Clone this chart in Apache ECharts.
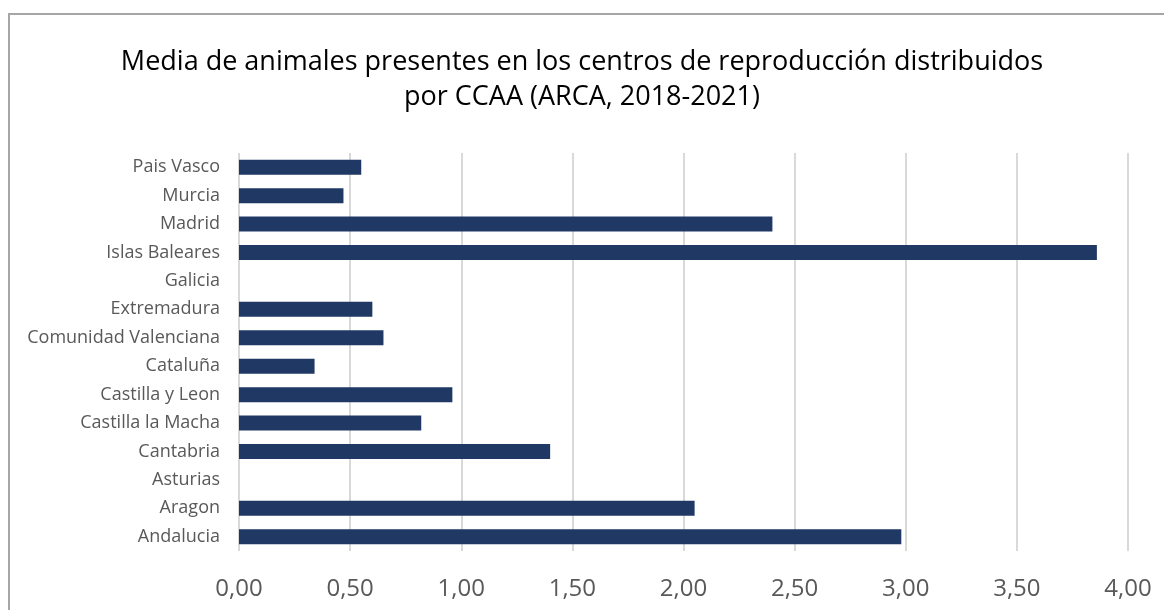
<!DOCTYPE html>
<html>
<head>
<meta charset="utf-8">
<script src="https://cdn.jsdelivr.net/npm/echarts@6/dist/echarts.min.js"></script>
<style>
  html, body { margin: 0; padding: 0; background: #fff; }
  #chart { width: 1164px; height: 610px; }
  #frame {
    position: absolute; left: 8px; top: 13px; width: 1170px; height: 610px;
    border-left: 2px solid #a6a6a6; border-top: 2px solid #a6a6a6;
    pointer-events: none;
  }
</style>
</head>
<body>
<div id="chart"></div>
<div id="frame"></div>
<script>
// regiones, de abajo hacia arriba como en el grafico
var regiones = ['Andalucia', 'Aragon', 'Asturias', 'Cantabria', 'Castilla la Macha',
  'Castilla y Leon', 'Cataluña', 'Comunidad Valenciana', 'Extremadura', 'Galicia',
  'Islas Baleares', 'Madrid', 'Murcia', 'Pais Vasco'];
var medias = [2.98, 2.05, 0, 1.40, 0.82, 0.96, 0.34, 0.65, 0.60, 0, 3.86, 2.40, 0.47, 0.55];

var chart = echarts.init(document.getElementById('chart'));

var option = {
  backgroundColor: '#ffffff',
  title: {
    text: 'Media de animales presentes en los centros de reproducción distribuidos\npor CCAA (ARCA, 2018-2021)',
    left: 'center',
    top: 40,
    textStyle: {
      fontFamily: 'Open Sans, sans-serif',
      fontSize: 27,
      fontWeight: 'normal',
      color: '#000000',
      lineHeight: 35
    }
  },
  grid: {
    left: 239,
    right: 36,
    top: 153,
    bottom: 59
  },
  xAxis: {
    type: 'value',
    min: 0,
    max: 4,
    interval: 0.5,
    axisLine: { show: false },
    axisTick: { show: false },
    axisLabel: {
      fontFamily: 'Open Sans',
      fontSize: 24,
      color: '#595959',
      margin: 26,
      formatter: function (v) { return v.toFixed(2).replace('.', ','); }
    },
    splitLine: { lineStyle: { color: '#d9d9d9', width: 2 } }
  },
  yAxis: {
    type: 'category',
    data: regiones,
    axisLine: { show: false },
    axisTick: { show: false },
    axisLabel: {
      fontFamily: 'Open Sans',
      fontSize: 18,
      color: '#595959',
      margin: 19
    }
  },
  series: [{
    type: 'bar',
    data: medias,
    barWidth: 15,
    itemStyle: { color: '#203864' },
    silent: true
  }]
};

chart.setOption(option);
</script>
</body>
</html>
